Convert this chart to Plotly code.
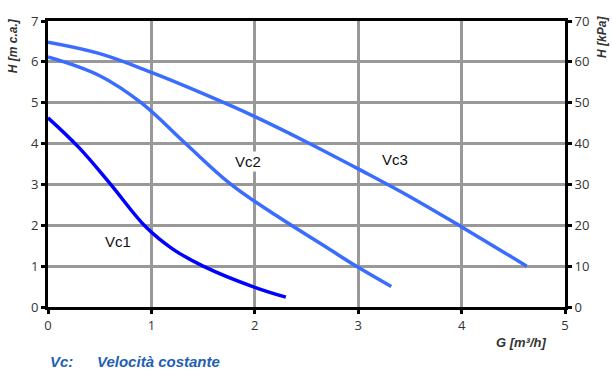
import plotly.graph_objects as go

# Pump head curves: flow G [m3/h] vs head H [m c.a.]
vc1_g = [0.0, 0.3, 0.6, 0.95, 1.2, 1.5, 2.0, 2.3]
vc1_h = [4.63, 3.9, 3.02, 1.95, 1.43, 1.0, 0.48, 0.24]

vc2_g = [0.0, 0.5, 0.9, 1.33, 1.77, 2.2, 2.7, 3.0, 3.32]
vc2_h = [6.12, 5.66, 5.0, 4.0, 3.0, 2.25, 1.45, 0.97, 0.5]

vc3_g = [0.0, 0.5, 1.0, 1.5, 2.0, 2.5, 3.0, 3.5, 4.0, 4.63]
vc3_h = [6.48, 6.2, 5.74, 5.22, 4.66, 4.04, 3.38, 2.7, 1.96, 1.0]

curve_names = ["Vc1", "Vc2", "Vc3"]
label_pos = [(0.68, 1.6), (1.93, 3.55), (3.36, 3.62)]

x_ticks = [0, 1, 2, 3, 4, 5]
y_ticks = [0, 1, 2, 3, 4, 5, 6, 7]
kpa_ticks = [0, 10, 20, 30, 40, 50, 60, 70]

dark_blue = "#0000ff"
light_blue = "#3a6cff"
tick_font = dict(family="Open Sans", size=13, color="#333333")

fig = go.Figure()
for g, h, col, name in [(vc1_g, vc1_h, dark_blue, "Vc1"),
                        (vc2_g, vc2_h, light_blue, "Vc2"),
                        (vc3_g, vc3_h, light_blue, "Vc3")]:
    fig.add_trace(go.Scatter(x=g, y=h, mode="lines", name=name,
                             line=dict(color=col, width=3.5, shape="spline", smoothing=1.1),
                             hoverinfo="x+y", showlegend=False))

# invisible trace to carry the kPa axis
fig.add_trace(go.Scatter(x=[0], y=[0], yaxis="y2", mode="markers",
                         marker=dict(opacity=0), showlegend=False, hoverinfo="skip"))

for name, (gx, hy) in zip(curve_names, label_pos):
    fig.add_annotation(x=gx, y=hy, text=name, showarrow=False,
                       font=dict(family="Liberation Sans", size=15, color="#111111"),
                       bgcolor="white", borderpad=1)

axis_common = dict(showline=True, linecolor="black", linewidth=3,
                   ticks="outside", ticklen=4, tickwidth=3, tickcolor="black",
                   zeroline=False, tickfont=tick_font)

fig.update_layout(
    width=612, height=374,
    margin=dict(l=48, r=47, t=13, b=67),
    paper_bgcolor="white", plot_bgcolor="white",
    xaxis=dict(range=[0, 5], tickvals=x_ticks, showgrid=True,
               gridcolor="#999999", gridwidth=3, mirror=True, **axis_common),
    yaxis=dict(range=[0, 7], tickvals=y_ticks, showgrid=True,
               gridcolor="#999999", gridwidth=3, **axis_common),
    yaxis2=dict(range=[0, 70], tickvals=kpa_ticks, overlaying="y", side="right",
                showgrid=False, **axis_common),
)

title_font = dict(family="Liberation Sans", size=12, color="#333333")
fig.add_annotation(xref="paper", yref="paper", x=-0.068, y=0.915, text="<b><i>H [m c.a.]</i></b>",
                   textangle=-90, showarrow=False, font=title_font, xanchor="center", yanchor="middle")
fig.add_annotation(xref="paper", yref="paper", x=1.072, y=0.945, text="<b><i>H [kPa]</i></b>",
                   textangle=-90, showarrow=False, font=title_font, xanchor="center", yanchor="middle")
fig.add_annotation(xref="paper", yref="paper", x=0.915, y=-0.125, text="<b><i>G [m³/h]</i></b>",
                   showarrow=False, font=dict(family="Liberation Sans", size=13, color="#333333"),
                   xanchor="center", yanchor="middle")

note_font = dict(family="Liberation Sans", size=15, color="#1f5fb4")
fig.add_annotation(xref="paper", yref="paper", x=0.0, y=-0.19, text="<b><i>Vc:</i></b>",
                   showarrow=False, font=note_font, xanchor="left", yanchor="middle")
fig.add_annotation(xref="paper", yref="paper", x=0.09, y=-0.19, text="<b><i>Velocità costante</i></b>",
                   showarrow=False, font=note_font, xanchor="left", yanchor="middle")

fig.write_html("out.html")
